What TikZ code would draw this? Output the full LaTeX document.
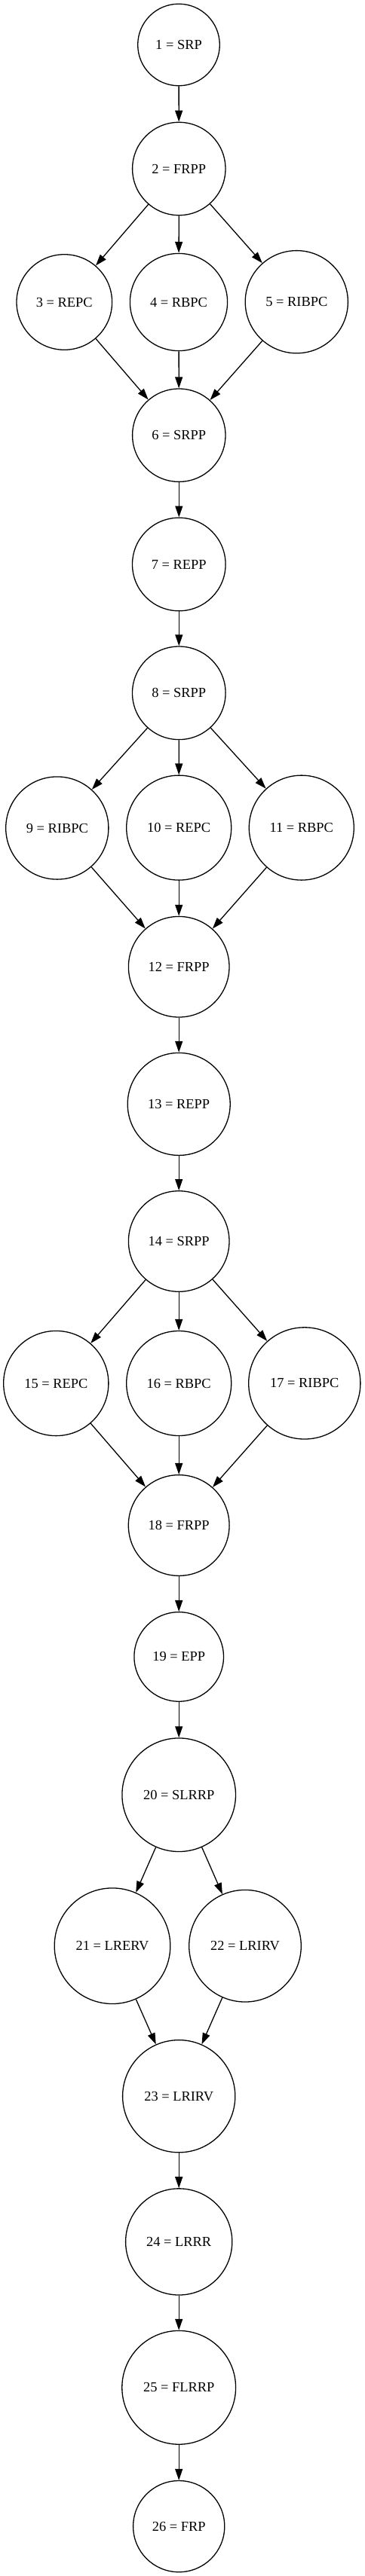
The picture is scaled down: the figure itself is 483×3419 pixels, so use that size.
\documentclass[tikz,border=0pt]{standalone}
\usepackage{fontspec}
\setmainfont{Liberation Serif}
\usetikzlibrary{arrows.meta}
\tikzset{
  st/.style={circle, draw=black, line width=1.3pt, inner sep=0pt, minimum size=#1, font=\fontsize{18.4}{22}\selectfont},
  edge/.style={line width=1.3pt, -{Triangle[length=15pt,width=10pt]}}
}
\begin{document}
\begin{tikzpicture}[x=1pt,y=-1pt]
\useasboundingbox (0,0) rectangle (483,3419);
\node[st=108.6pt] (n1) at (237,59.5) {1 = SRP};
\node[st=123.4pt] (n2) at (237.3,224) {2 = FRPP};
\node[st=126.6pt] (n3) at (85.3,401) {3 = REPC};
\node[st=129.2pt] (n4) at (237,401) {4 = RBPC};
\node[st=136.2pt] (n5) at (393.3,400.7) {5 = RIBPC};
\node[st=123.4pt] (n6) at (237.3,577.7) {6 = SRPP};
\node[st=123.6pt] (n7) at (237.3,749) {7 = REPP};
\node[st=123.6pt] (n8) at (237.3,919.8) {8 = SRPP};
\node[st=136.2pt] (n9) at (75.8,1099) {9 = RIBPC};
\node[st=139pt] (n10) at (237.2,1098.6) {10 = REPC};
\node[st=139pt] (n11) at (399.8,1098.6) {11 = RBPC};
\node[st=133.6pt] (n12) at (237.2,1283.2) {12 = FRPP};
\node[st=136pt] (n13) at (237.2,1465.4) {13 = REPP};
\node[st=133.6pt] (n14) at (237.2,1647.5) {14 = SRPP};
\node[st=139.2pt] (n15) at (74.3,1836) {15 = REPC};
\node[st=139pt] (n16) at (237.2,1836) {16 = RBPC};
\node[st=148.2pt] (n17) at (403.8,1835.9) {17 = RIBPC};
\node[st=133.8pt] (n18) at (237.2,2024.5) {18 = FRPP};
\node[st=118.6pt] (n19) at (237.2,2198.9) {19 = EPP};
\node[st=150.6pt] (n20) at (237.2,2382.2) {20 = SLRRP};
\node[st=153.6pt] (n21) at (149,2582.7) {21 = LRERV};
\node[st=148.6pt] (n22) at (325,2582.7) {22 = LRIRV};
\node[st=149.2pt] (n23) at (237.2,2782.2) {23 = LRIRV};
\node[st=141.2pt] (n24) at (237.2,2975.4) {24 = LRRR};
\node[st=150.8pt] (n25) at (237.2,3168.8) {25 = FLRRP};
\node[st=121.2pt] (n26) at (237.2,3353.1) {26 = FRP};
\draw[edge] (n1) -- (n2);
\draw[edge] (n2) -- (n3);
\draw[edge] (n2) -- (n4);
\draw[edge] (n2) -- (n5);
\draw[edge] (n3) -- (n6);
\draw[edge] (n4) -- (n6);
\draw[edge] (n5) -- (n6);
\draw[edge] (n6) -- (n7);
\draw[edge] (n7) -- (n8);
\draw[edge] (n8) -- (n9);
\draw[edge] (n8) -- (n10);
\draw[edge] (n8) -- (n11);
\draw[edge] (n9) -- (n12);
\draw[edge] (n10) -- (n12);
\draw[edge] (n11) -- (n12);
\draw[edge] (n12) -- (n13);
\draw[edge] (n13) -- (n14);
\draw[edge] (n14) -- (n15);
\draw[edge] (n14) -- (n16);
\draw[edge] (n14) -- (n17);
\draw[edge] (n15) -- (n18);
\draw[edge] (n16) -- (n18);
\draw[edge] (n17) -- (n18);
\draw[edge] (n18) -- (n19);
\draw[edge] (n19) -- (n20);
\draw[edge] (n20) -- (n21);
\draw[edge] (n20) -- (n22);
\draw[edge] (n21) -- (n23);
\draw[edge] (n22) -- (n23);
\draw[edge] (n23) -- (n24);
\draw[edge] (n24) -- (n25);
\draw[edge] (n25) -- (n26);
\end{tikzpicture}
\end{document}
